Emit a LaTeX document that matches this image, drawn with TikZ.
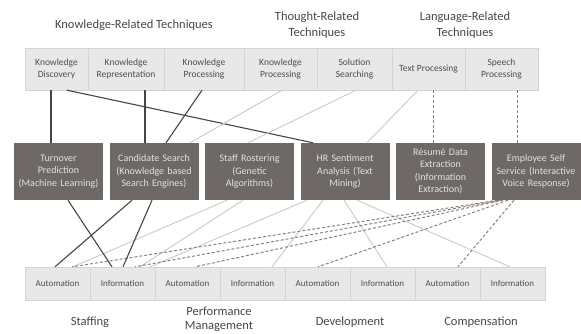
\documentclass[tikz,border=0pt]{standalone}
\usepackage{fontspec}
\setmainfont{Carlito}
\definecolor{cellfill}{HTML}{E8E8E8}
\definecolor{cellline}{HTML}{D4D4D4}
\definecolor{celltext}{HTML}{4E4E4E}
\definecolor{headtext}{HTML}{474747}
\definecolor{boxfill}{HTML}{6E6866}
\definecolor{boxtext}{HTML}{E4E2E0}
\definecolor{darkline}{HTML}{454545}
\definecolor{lightline}{HTML}{CDCDCD}
\definecolor{dashline}{HTML}{8C8078}
\begin{document}
\begin{tikzpicture}[x=1pt,y=-1pt,
  techcell/.style={draw=cellline, fill=cellfill, inner sep=0pt, text=celltext,
    align=center, minimum height=42, font=\fontsize{9.5}{11.5}\selectfont},
  appbox/.style={fill=boxfill, inner sep=0pt, text=boxtext, align=center,
    minimum width=89, minimum height=57, text width=85,
    font=\fontsize{10}{12.5}\selectfont},
  areacell/.style={draw=cellline, fill=cellfill, inner sep=0pt, text=celltext,
    minimum width=65, minimum height=33, font=\fontsize{9}{11}\selectfont},
  heading/.style={text=headtext, align=center, inner sep=0pt,
    font=\fontsize{12.5}{16}\selectfont},
  hard/.style={draw=darkline, line width=1.1pt},
  soft/.style={draw=lightline, line width=1pt},
  dashlink/.style={draw=dashline, line width=1pt, dash pattern=on 3pt off 2pt},
]
\useasboundingbox (0,0) rectangle (581,334);

% group headings
\node[heading] (h1) at (134,25) {Knowledge-Related Techniques};
\node[heading] (h2) at (317,25) {Thought-Related\\Techniques};
\node[heading] (h3) at (465,25) {Language-Related\\Techniques};

% technique cells
\node[techcell, minimum width=63] (t1) at (56.5,69) {Knowledge\\Discovery};
\node[techcell, minimum width=76] (t2) at (126,69) {Knowledge\\Representation};
\node[techcell, minimum width=80] (t3) at (204,69) {Knowledge\\Processing};
\node[techcell, minimum width=73] (t4) at (280.5,69) {Knowledge\\Processing};
\node[techcell, minimum width=75] (t5) at (354.5,69) {Solution\\Searching};
\node[techcell, minimum width=73] (t6) at (428.5,69) {Text Processing};
\node[techcell, minimum width=73] (t7) at (501.5,69) {Speech\\Processing};

% applications
\node[appbox] (m1) at (58.5,171.5) {Turnover\\Prediction\\(Machine Learning)};
\node[appbox] (m2) at (154,171.5) {Candidate Search\\(Knowledge based\\Search Engines)};
\node[appbox] (m3) at (249.5,171.5) {Staff Rostering\\(Genetic\\Algorithms)};
\node[appbox] (m4) at (345,171.5) {HR Sentiment\\Analysis (Text\\Mining)};
\node[appbox] (m5) at (440.5,171.5) {Résumé Data\\Extraction\\(Information\\Extraction)};
\node[appbox] (m6) at (536,171.5) {Employee Self\\Service (Interactive\\Voice Response)};

% HR area cells
\node[areacell] (b1) at (57.5,283.5) {Automation};
\node[areacell] (b2) at (122.5,283.5) {Information};
\node[areacell] (b3) at (187.5,283.5) {Automation};
\node[areacell] (b4) at (252.5,283.5) {Information};
\node[areacell] (b5) at (317.5,283.5) {Automation};
\node[areacell] (b6) at (382.5,283.5) {Information};
\node[areacell] (b7) at (447.5,283.5) {Automation};
\node[areacell] (b8) at (512.5,283.5) {Information};

% HR area labels
\node[heading] (g1) at (90,322) {Staffing};
\node[heading, font=\fontsize{12.5}{13.5}\selectfont] (g2) at (219,319.5) {Performance\\Management};
\node[heading] (g3) at (350,322) {Development};
\node[heading] (g4) at (481,322) {Compensation};

% techniques -> applications
\draw[hard] ([xshift=-5.5]t1.south) -- ([xshift=-7.5]m1.north);
\draw[hard] ([xshift=19]t2.south) -- ([xshift=-9]m2.north);
\draw[hard] ([xshift=-2]t3.south) -- ([xshift=12]m2.north);
\draw[hard] ([xshift=10.5]t1.south) -- ([xshift=-32]m4.north);
\draw[soft] ([xshift=1.5]t4.south) -- ([xshift=36]m2.north);
\draw[soft] ([xshift=1.5]t5.south) -- ([xshift=-1.5]m3.north);
\draw[soft] ([xshift=-10.5]t6.south) -- ([xshift=22]m4.north);
\draw[dashlink] ([xshift=4.5]t6.south) -- ([xshift=-7.5]m5.north);
\draw[dashlink] ([xshift=15.5]t7.south) -- ([xshift=-19]m6.north);

% applications -> HR areas
\draw[soft] ([xshift=-22.5]m3.south) -- ([xshift=15.5]b1.north);
\draw[soft] ([xshift=-6.5]m3.south) -- ([xshift=17.5]b2.north);
\draw[soft] ([xshift=-38]m4.south) -- ([xshift=27.5]b2.north);
\draw[soft] ([xshift=-22]m4.south) -- ([xshift=19.5]b4.north);
\draw[soft] ([xshift=-1]m4.south) -- ([xshift=4.5]b6.north);
\draw[soft] ([xshift=12]m4.south) -- ([xshift=-2.5]b8.north);
\draw[dashlink] ([xshift=-38]m6.south) -- ([xshift=14.5]b1.north);
\draw[dashlink] ([xshift=-36]m6.south) -- ([xshift=12.5]b2.north);
\draw[dashlink] ([xshift=-33]m6.south) -- ([xshift=7.5]b3.north);
\draw[dashlink] ([xshift=-28]m6.south) -- ([xshift=0.5]b5.north);
\draw[dashlink] ([xshift=-22]m6.south) -- ([xshift=10.5]b7.north);
\draw[hard] ([xshift=9.5]m1.south) -- ([xshift=-10.5]b2.north);
\draw[hard] ([xshift=-22]m2.south) -- ([xshift=-2.5]b1.north);
\draw[hard] ([xshift=-2]m2.south) -- ([xshift=0.5]b2.north);
\end{tikzpicture}
\end{document}
